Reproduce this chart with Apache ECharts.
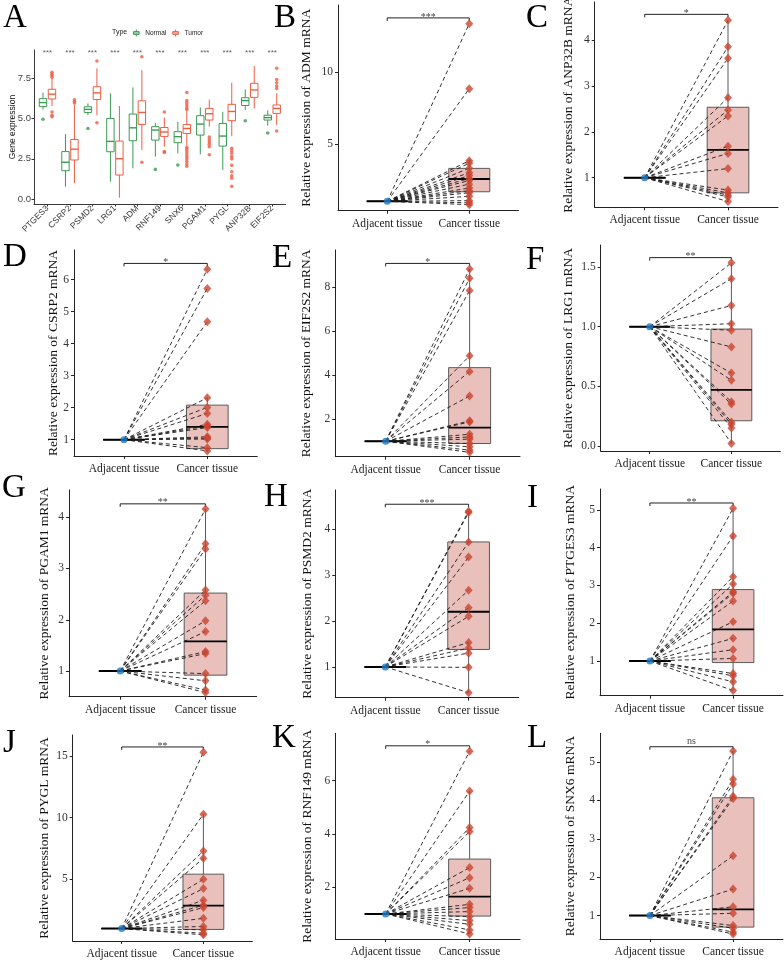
<!DOCTYPE html>
<html><head><meta charset="utf-8">
<script src="https://cdn.jsdelivr.net/npm/echarts@6/dist/echarts.min.js"></script>
<style>html,body{margin:0;padding:0;background:#fff}#c{width:784px;height:961px}</style>
</head><body><div id="c"></div>
<script>
// ---------------- Panel A data ----------------
const genesA = ['PTGES3','CSRP2','PSMD2','LRG1','ADM','RNF149','SNX6','PGAM1','PYGL','ANP32B','EIF2S2'];
// [lower whisker, Q1, median, Q3, upper whisker]
const normalBoxA = [
  [5.55,5.73,5.98,6.22,6.6],[0.78,1.77,2.29,2.95,4.03],[5.2,5.37,5.56,5.72,5.93],
  [1.09,2.94,3.58,5.0,6.55],[1.91,3.62,4.42,5.27,6.92],[2.64,3.66,4.28,4.49,4.73],
  [2.84,3.5,3.87,4.18,4.79],[2.78,3.97,4.65,5.17,5.68],[1.81,3.29,3.91,4.69,5.41],
  [5.52,5.8,6.1,6.28,6.79],[4.55,4.9,5.05,5.2,5.5]];
const tumorBoxA = [
  [5.77,6.2,6.5,6.8,7.5],[0.99,2.43,3.1,3.7,5.85],[5.2,6.17,6.58,6.96,8.1],
  [0.1,1.5,2.51,3.6,5.77],[3.05,4.63,5.37,6.09,7.98],[3.25,3.89,4.16,4.44,5.06],
  [3.3,4.07,4.38,4.63,5.45],[4.49,4.9,5.29,5.62,6.17],[3.9,4.86,5.43,5.87,7.2],
  [5.62,6.3,6.76,7.17,8.24],[4.6,5.31,5.62,5.83,6.55]];
const normalOutA = [[4.95],[],[4.38],[],[],[1.85],[2.12],[],[],[4.86],[4.1]];
const tumorOutA = [
  [7.85,7.75,7.65,7.55,5.4,5.2,5.1],[6.15,6.05,5.95],[8.55,4.73],[],[8.81,2.29],
  [5.4,2.95,2.9],[6.6,6.1,5.95,5.8,5.65,5.55,3.2,3.1,2.95,2.8,2.65,2.5,2.35,2.2,2.05],
  [3.85,3.7,3.55,3.4,3.25,2.75],[3.15,3.0,2.85,2.65,2.5,2.1,1.7,1.45,1.3,0.8],[],
  [8.1,7.4,7.2,7.0,6.85,4.22]];
const sigA = ['***','***','***','***','***','***','***','***','***','***','***'];
const yTicksA = [0, 2.5, 5, 7.5];

// ---------------- Paired panels data ----------------
const groupLabels = ['Adjacent tissue', 'Cancer tissue'];
const ADJ = 1; // normalised adjacent-tissue expression

const geneB = 'ADM';
const cancerB = [13.4,8.86,3.84,3.66,3.31,3.0,2.8,2.6,2.45,2.2,1.93,1.75,1.6,1.35,1.05,0.9,0.77];
const boxB = [0.77,1.67,2.56,3.3,3.84];
const sigB = '***';
const ticksB = [5,10];

const geneC = 'ANP32B';
const cancerC = [4.44,3.86,3.61,2.75,2.48,2.35,1.69,1.53,1.2,0.73,0.67,0.62,0.58,0.48];
const boxC = [0.48,0.67,1.61,2.54,4.44];
const sigC = '*';
const ticksC = [1,2,3,4];

const geneD = 'CSRP2';
const cancerD = [6.33,5.73,4.69,2.31,2.01,1.82,1.48,1.43,1.38,1.09,1.05,1.02,0.75,0.65];
const boxD = [0.65,0.72,1.4,2.08,2.31];
const sigD = '*';
const ticksD = [1,2,3,4,5,6];

const geneE = 'EIF2S2';
const cancerE = [8.84,8.42,7.86,4.89,4.18,3.06,1.93,1.88,1.32,1.2,1.1,0.9,0.75,0.6,0.5];
const boxE = [0.5,0.9,1.62,4.35,8.84];
const sigE = '*';
const ticksE = [2,4,6,8];

const geneF = 'LRG1';
const cancerF = [1.536,1.403,1.178,1.025,0.97,0.83,0.61,0.55,0.37,0.35,0.2,0.18,0.15,0.02];
const boxF = [0.02,0.21,0.47,0.98,1.536];
const sigF = '**';
const ticksF = [0,0.5,1,1.5];

const geneG = 'PGAM1';
const cancerG = [4.16,3.48,3.38,2.58,2.48,2.37,1.98,1.77,1.38,1.34,0.95,0.81,0.63,0.58];
const boxG = [0.58,0.92,1.58,2.52,4.16];
const sigG = '**';
const ticksG = [1,2,3,4];

const geneH = 'PSMD2';
const cancerH = [4.39,4.36,3.72,3.39,2.67,2.29,2.1,1.53,1.41,1.3,0.99,0.44];
const boxH = [0.44,1.38,2.2,3.72,4.39];
const sigH = '***';
const ticksH = [1,2,3,4];

const geneI = 'PTGES3';
const cancerI = [5.04,4.31,3.23,3.04,2.83,2.79,2.59,2.04,1.6,1.3,1.07,0.67,0.61,0.45,0.22];
const boxI = [0.22,0.96,1.84,2.89,5.04];
const sigI = '**';
const ticksI = [1,2,3,4,5];

const geneJ = 'PYGL';
const cancerJ = [15.3,10.27,7.29,6.7,5.0,4.24,3.3,2.9,2.7,1.83,1.17,0.9,0.62,0.49];
const boxJ = [0.49,0.93,2.86,5.41,10.27];
const sigJ = '**';
const ticksJ = [5,10,15];

const geneK = 'RNF149';
const cancerK = [7.11,5.61,4.24,4.09,2.74,2.36,1.96,1.36,1.24,1.09,0.9,0.75,0.61,0.4,0.25];
const boxK = [0.25,0.92,1.65,3.06,5.61];
const sigK = '*';
const ticksK = [2,4,6];

const geneL = 'SNX6';
const cancerL = [5.29,4.55,4.43,4.11,4.05,2.56,1.69,1.23,1.06,0.74,0.67,0.57,0.52];
const boxL = [0.52,0.7,1.16,4.07,5.29];
const sigL = 'ns';
const ticksL = [1,2,3,4,5];

// ---------------- Layout / style ----------------
const SER = '"Liberation Serif","Times New Roman",serif';
const SANS = '"Liberation Sans",Arial,sans-serif';
const GREEN = '#3b9a55', ORANGE = '#ef5d45';
const RED = '#c9452f', BLUE = '#1b79c6', PINK = '#e9c0bc', BOXLINE = '#5a5a5a';

const layoutA = {left:34, top:50, right:285.7, bottom:204, yMin:-0.29, yMax:9.23, sigY:9.07, dodge:0.2, boxW:0.33};

const paired = [
  {id:'B', gene:geneB, cancer:cancerB, box:boxB, sig:sigB, ticks:ticksB, L:{left:338,top:5,right:518.5,bottom:210.7,yMin:0.348,yMax:14.7,br:13.8,gap:24.5}, letter:[274,8]},
  {id:'C', gene:geneC, cancer:cancerC, box:boxC, sig:sigC, ticks:ticksC, L:{left:594.7,top:2,right:778,bottom:207.3,yMin:0.354,yMax:4.84,br:4.57,gap:19.7}, letter:[526,8]},
  {id:'D', gene:geneD, cancer:cancerD, box:boxD, sig:sigD, ticks:ticksD, L:{left:74,top:250,right:257.3,bottom:456,yMin:0.49,yMax:6.93,br:6.51,gap:13.5}, letter:[3,247]},
  {id:'E', gene:geneE, cancer:cancerE, box:boxE, sig:sigE, ticks:ticksE, L:{left:335.3,top:250,right:520,bottom:456.7,yMin:0.30,yMax:9.70,br:9.09,gap:21.5}, letter:[272,248]},
  {id:'F', gene:geneF, cancer:cancerF, box:boxF, sig:sigF, ticks:ticksF, L:{left:600.7,top:245,right:780.4,bottom:451,yMin:-0.044,yMax:1.686,br:1.58,gap:25}, letter:[526,250]},
  {id:'G', gene:geneG, cancer:cancerG, box:boxG, sig:sigG, ticks:ticksG, L:{left:69,top:490,right:256.7,bottom:696.7,yMin:0.5,yMax:4.53,br:4.26,gap:17.3}, letter:[2,478]},
  {id:'H', gene:geneH, cancer:cancerH, box:boxH, sig:sigH, ticks:ticksH, L:{left:335.3,top:490,right:518.6,bottom:697.7,yMin:0.33,yMax:4.85,br:4.54,gap:21}, letter:[264,487]},
  {id:'I', gene:geneI, cancer:cancerI, box:boxI, sig:sigI, ticks:ticksI, L:{left:600,top:489,right:783,bottom:695.7,yMin:0.084,yMax:5.55,br:5.18,gap:22.5}, letter:[527,488]},
  {id:'J', gene:geneJ, cancer:cancerJ, box:boxJ, sig:sigJ, ticks:ticksJ, L:{left:72.7,top:735,right:252.4,bottom:941,yMin:-0.01,yMax:16.7,br:15.73,gap:21}, letter:[3,733]},
  {id:'K', gene:geneK, cancer:cancerK, box:boxK, sig:sigK, ticks:ticksK, L:{left:335.3,top:733.3,right:520,bottom:939,yMin:0.06,yMax:7.78,br:7.31,gap:21}, letter:[272,728]},
  {id:'L', gene:geneL, cancer:cancerL, box:boxL, sig:sigL, ticks:ticksL, L:{left:600,top:733.3,right:783,bottom:939,yMin:0.39,yMax:5.75,br:5.4,gap:22.5}, letter:[527,728]}
];

// ---------------- Build option ----------------
const grids = [], xAxes = [], yAxes = [], series = [], graphics = [];
function addGrid(l, t, r, b) {
  grids.push({left:l, top:t, width:r - l, height:b - t, containLabel:false, outerBoundsMode:'none'});
  return grids.length - 1;
}
function boxRenderer(boxWidthUnits, fill, stroke, medColor, medWidth) {
  return function (params, api) {
    const x = api.value(0);
    const lo = api.coord([x, api.value(1)]), q1 = api.coord([x, api.value(2)]);
    const md = api.coord([x, api.value(3)]), q3 = api.coord([x, api.value(4)]);
    const hi = api.coord([x, api.value(5)]);
    const w = api.size([boxWidthUnits, 0])[0];
    return {type:'group', children:[
      {type:'line', shape:{x1:q3[0], y1:q3[1], x2:hi[0], y2:hi[1]}, style:{stroke:stroke, lineWidth:1}},
      {type:'line', shape:{x1:q1[0], y1:q1[1], x2:lo[0], y2:lo[1]}, style:{stroke:stroke, lineWidth:1}},
      {type:'rect', shape:{x:q3[0] - w / 2, y:q3[1], width:w, height:q1[1] - q3[1]}, style:{fill:fill, stroke:stroke, lineWidth:1}},
      {type:'line', shape:{x1:md[0] - w / 2, y1:md[1], x2:md[0] + w / 2, y2:md[1]}, style:{stroke:medColor, lineWidth:medWidth}}
    ]};
  };
}

// ---- Panel A ----
(function () {
  const L = layoutA;
  const gi = addGrid(L.left, L.top, L.right, L.bottom);
  xAxes.push({type:'value', gridIndex:gi, min:-0.6, max:genesA.length - 0.4,
    axisLine:{show:true, onZero:false, lineStyle:{color:'#222', width:0.9}},
    axisTick:{show:true, customValues:genesA.map((g, i) => i), length:2.5, lineStyle:{color:'#333'}},
    axisLabel:{customValues:genesA.map((g, i) => i), formatter:v => genesA[Math.round(v)], rotate:45, margin:3,
      fontFamily:SANS, fontSize:8.5, color:'#333'},
    splitLine:{show:false}});
  yAxes.push({type:'value', gridIndex:gi, min:L.yMin, max:L.yMax,
    name:'Gene expression', nameLocation:'middle', nameGap:16.5, nameRotate:90, nameMoveOverlap:false,
    nameTextStyle:{fontFamily:SANS, fontSize:8.5, color:'#111'},
    axisLine:{show:true, onZero:false, lineStyle:{color:'#222', width:0.9}},
    axisTick:{show:true, customValues:yTicksA, length:2.5, lineStyle:{color:'#333'}},
    axisLabel:{customValues:yTicksA, formatter:v => v.toFixed(1), margin:3, fontFamily:SANS, fontSize:9.5, color:'#444'},
    splitLine:{show:false}});
  const ax = {xAxisIndex:xAxes.length - 1, yAxisIndex:yAxes.length - 1};
  const groups = [
    {name:'Normal', color:GREEN, stats:normalBoxA, outs:normalOutA, off:-L.dodge},
    {name:'Tumor', color:ORANGE, stats:tumorBoxA, outs:tumorOutA, off:L.dodge}
  ];
  groups.forEach(g => {
    series.push(Object.assign({type:'custom', name:g.name, itemStyle:{color:g.color},
      renderItem:boxRenderer(L.boxW, '#fff', g.color, g.color, 1.4),
      encode:{x:0, y:[1,2,3,4,5]},
      data:g.stats.map((s, i) => [i + g.off].concat(s))}, ax));
  });
  groups.forEach(g => {
    const pts = [];
    g.outs.forEach((arr, i) => arr.forEach(v => pts.push([i + g.off, v])));
    series.push(Object.assign({type:'scatter', name:g.name, symbol:'circle', symbolSize:3.6,
      itemStyle:{color:g.color}, data:pts, silent:true}, ax));
  });
  series.push(Object.assign({type:'scatter', symbolSize:0, silent:true,
    data:sigA.map((s, i) => ({value:[i, L.sigY], label:{show:true, formatter:s, position:'inside',
      fontFamily:SANS, fontSize:8, color:'#333'}}))}, ax));
  graphics.push({type:'text', left:112, top:29, style:{text:'Type', font:'7px ' + SANS, fill:'#222'}});
  graphics.push({type:'text', left:3, top:2, style:{text:'A', font:'33px ' + SER, fill:'#000'}});
})();

// ---- Paired panels ----
paired.forEach(p => {
  const L = p.L;
  const gi = addGrid(L.left, L.top, L.right, L.bottom);
  const dec = p.ticks.some(t => t % 1 !== 0) ? 1 : 0;
  xAxes.push({type:'value', gridIndex:gi, min:0.4, max:2.6,
    axisLine:{show:true, onZero:false, lineStyle:{color:'#222', width:1}},
    axisTick:{show:true, customValues:[1,2], length:3, lineStyle:{color:'#222'}},
    axisLabel:{customValues:[1,2], formatter:v => groupLabels[Math.round(v) - 1], margin:7,
      fontFamily:SER, fontSize:11.5, color:'#222'},
    splitLine:{show:false}});
  yAxes.push({type:'value', gridIndex:gi, min:L.yMin, max:L.yMax,
    name:'Relative expression of ' + p.gene + ' mRNA', nameLocation:'middle', nameGap:L.gap, nameRotate:90,
    nameMoveOverlap:false,
    nameTextStyle:{fontFamily:SER, fontSize:13.5, color:'#111'},
    axisLine:{show:true, onZero:false, lineStyle:{color:'#222', width:1}},
    axisTick:{show:true, customValues:p.ticks, length:3, lineStyle:{color:'#222'}},
    axisLabel:{customValues:p.ticks, formatter:v => v.toFixed(dec), margin:5, fontFamily:SER, fontSize:11.5, color:'#333'},
    splitLine:{show:false}});
  const ax = {xAxisIndex:xAxes.length - 1, yAxisIndex:yAxes.length - 1};
  // adjacent (degenerate) box
  series.push(Object.assign({type:'custom', silent:true, renderItem:boxRenderer(0.5, 'none', '#222', '#000', 2),
    encode:{x:0, y:[1,2,3,4,5]}, data:[[1, ADJ, ADJ, ADJ, ADJ, ADJ]]}, ax));
  // cancer box
  series.push(Object.assign({type:'custom', silent:true, renderItem:boxRenderer(0.5, PINK, BOXLINE, '#000', 1.8),
    encode:{x:0, y:[1,2,3,4,5]}, data:[[2].concat(p.box)]}, ax));
  // paired dashed lines
  series.push(Object.assign({type:'custom', silent:true,
    renderItem:function (params, api) {
      const a = api.coord([1, ADJ]);
      const b = api.coord([api.value(0), api.value(1)]);
      return {type:'line', shape:{x1:a[0], y1:a[1], x2:b[0], y2:b[1]},
        style:{stroke:'#1a1a1a', lineWidth:0.9, lineDash:[4, 3]}};
    },
    encode:{x:0, y:1}, data:p.cancer.map(v => [2, v])}, ax));
  // cancer points
  series.push(Object.assign({type:'scatter', silent:true, symbol:'diamond', symbolSize:[8, 9],
    itemStyle:{color:RED}, data:p.cancer.map(v => [2, v])}, ax));
  // adjacent point
  series.push(Object.assign({type:'scatter', silent:true, symbol:'circle', symbolSize:7,
    itemStyle:{color:BLUE}, data:[[1, ADJ]]}, ax));
  // significance bracket
  series.push(Object.assign({type:'custom', silent:true,
    renderItem:function (params, api) {
      const a = api.coord([api.value(0), api.value(2)]);
      const b = api.coord([api.value(1), api.value(2)]);
      return {type:'group', children:[
        {type:'polyline', shape:{points:[[a[0], a[1] + 3], [a[0], a[1]], [b[0], b[1]], [b[0], b[1] + 3]]},
          style:{stroke:'#222', lineWidth:1, fill:'none'}},
        {type:'text', x:(a[0] + b[0]) / 2, y:a[1] + (p.sig === 'ns' ? 0 : 4),
          style:{text:p.sig, font:'10px ' + SER, fill:'#444', align:'center', verticalAlign:'bottom'}}
      ]};
    },
    encode:{x:0, y:2}, data:[[1, 2, L.br]]}, ax));
  graphics.push({type:'text', left:p.letter[0], top:p.letter[1] - 6, style:{text:p.id, font:'33px ' + SER, fill:'#000'}});
});

const option = {
  animation:false,
  backgroundColor:'#fff',
  grid:grids, xAxis:xAxes, yAxis:yAxes, series:series,
  legend:{left:133, top:29, padding:0, itemWidth:10, itemHeight:7, itemGap:6, selectedMode:false,
    textStyle:{fontFamily:SANS, fontSize:6.5, color:'#222', padding:[0,0,0,-1]},
    data:[
      {name:'Normal', icon:'path://M5,0L5,3M1,3L9,3L9,7L1,7ZM1,5L9,5M5,7L5,10', itemStyle:{color:'#fff', borderColor:GREEN, borderWidth:1}},
      {name:'Tumor', icon:'path://M5,0L5,3M1,3L9,3L9,7L1,7ZM1,5L9,5M5,7L5,10', itemStyle:{color:'#fff', borderColor:ORANGE, borderWidth:1}}
    ]},
  graphic:graphics
};
const chart = echarts.init(document.getElementById('c'), null, {renderer:'canvas'});
chart.setOption(option);
</script>
</body></html>
